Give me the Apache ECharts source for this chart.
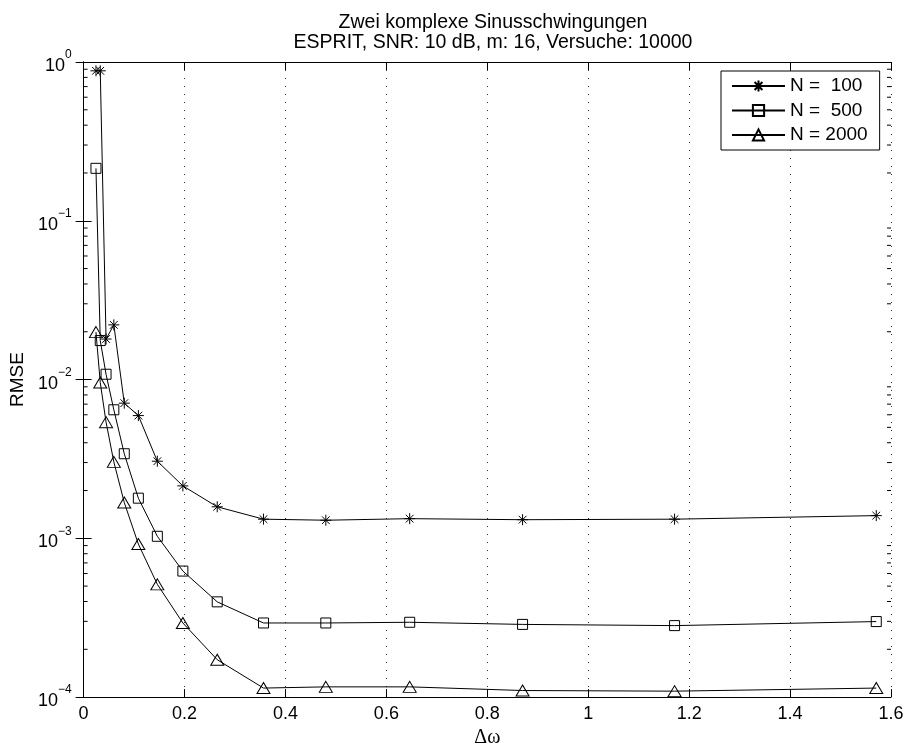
<!DOCTYPE html>
<html>
<head>
<meta charset="utf-8">
<title>ESPRIT RMSE</title>
<script src="https://cdn.jsdelivr.net/npm/echarts@6/dist/echarts.min.js"></script>
<style>
  html, body { margin: 0; padding: 0; background: #fff; }
  #grafica { width: 907px; height: 753px; }
</style>
</head>
<body>
<div id="grafica"></div>
<script>
// Frequenzabstand (x) und RMSE je N
var deltaW = [0.0245, 0.0330, 0.0445, 0.0599, 0.0806, 0.1085, 0.1461, 0.1967, 0.2648, 0.3565, 0.4800, 0.6462, 0.8699, 1.1711, 1.5708];
var rmseN100 = [0.88, 0.88, 0.0180, 0.0221, 0.0071, 0.00593, 0.00306, 0.00214, 0.00158, 0.00132, 0.00130, 0.00133, 0.00131, 0.00132, 0.00139];
var rmseN500 = [0.214, 0.0176, 0.0108, 0.00645, 0.00341, 0.00179, 0.00103, 0.000622, 0.000398, 0.000293, 0.000293, 0.000296, 0.000287, 0.000282, 0.000299];
var rmseN2000 = [0.0199, 0.00958, 0.00539, 0.00303, 0.00168, 0.00092, 0.000513, 0.000293, 0.000172, 0.000114, 0.000116, 0.000116, 0.000110, 0.000109, 0.000114];
var nombres = ['N =  100', 'N =  500', 'N = 2000'];
// kleine Teilstriche der log-Achse
var minorTicks = [
  2e-4, 3e-4, 4e-4, 5e-4, 6e-4, 7e-4, 8e-4, 9e-4,
  2e-3, 3e-3, 4e-3, 5e-3, 6e-3, 7e-3, 8e-3, 9e-3,
  2e-2, 3e-2, 4e-2, 5e-2, 6e-2, 7e-2, 8e-2, 9e-2,
  2e-1, 3e-1, 4e-1, 5e-1, 6e-1, 7e-1, 8e-1, 9e-1
];
var xMin = 0, xMax = 1.6;

var fuente = 'Liberation Sans';
var starPath = 'path://M0,-6L0,6M-6,0L6,0M-4.2,-4.2L4.2,4.2M-4.2,4.2L4.2,-4.2';

function pares(ys) {
  var out = [];
  for (var i = 0; i < deltaW.length; i++) out.push([deltaW[i], ys[i]]);
  return out;
}

function serie(nombre, ys, symbol, size) {
  return {
    name: nombre,
    type: 'line',
    data: pares(ys),
    symbol: symbol,
    symbolSize: size,
    lineStyle: { color: '#000', width: 1 },
    itemStyle: { color: 'rgba(255,255,255,0)', borderColor: '#000', borderWidth: 1 },
    z: 3
  };
}

var datosTicks = [];
minorTicks.forEach(function (v) { datosTicks.push([xMin, v]); });
minorTicks.forEach(function (v) { datosTicks.push([xMax, v]); });

function labelLog(v) {
  var e = Math.round(Math.log10(v));
  var s = e < 0 ? '\u2212' + (-e) : '' + e;
  return '{b|10}{s|' + s + '}';
}

var ejeY = {
  type: 'log',
  logBase: 10,
  min: 1e-4,
  max: 1,
  splitNumber: 4,
  axisLine: { show: true, lineStyle: { color: '#000', width: 1 } },
  axisTick: { show: true, inside: true, length: 8, lineStyle: { color: '#000' } },
  splitLine: { show: false }
};

var echarte = echarts.init(document.getElementById('grafica'), null, { renderer: 'canvas' });
var grafica = {
  animation: false,
  backgroundColor: '#fff',
  title: {
    text: 'Zwei komplexe Sinusschwingungen\nESPRIT, SNR: 10 dB, m: 16, Versuche: 10000',
    left: 488,
    top: 8,
    textAlign: 'center',
    textStyle: { fontFamily: fuente, fontSize: 19.5, fontWeight: 'normal', color: '#000', lineHeight: 20 }
  },
  legend: {
    orient: 'vertical',
    left: 721,
    top: 71,
    data: nombres,
    itemWidth: 53,
    itemHeight: 14,
    itemGap: 4.5,
    padding: [5, 12, 5, 10],
    backgroundColor: '#fff',
    borderColor: '#000',
    borderWidth: 1,
    borderRadius: 0,
    textStyle: { fontFamily: fuente, fontSize: 19, color: '#000', lineHeight: 20 }
  },
  grid: { left: 80, right: 16, top: 62, bottom: 51, containLabel: false },
  xAxis: [
    {
      type: 'value',
      min: xMin,
      max: xMax,
      interval: 0.2,
      name: '\u0394\u03c9',
      nameLocation: 'middle',
      nameGap: 28,
      nameTextStyle: { fontFamily: 'Liberation Serif', fontSize: 20, color: '#000' },
      axisLine: { show: true, onZero: false, lineStyle: { color: '#000', width: 1 } },
      axisTick: { show: true, inside: true, length: 8, lineStyle: { color: '#000' } },
      axisLabel: { fontFamily: fuente, fontSize: 18, color: '#000', margin: 8 },
      splitLine: { show: true, lineStyle: { color: '#333', width: 1, type: [1, 7] } }
    },
    {
      type: 'value',
      position: 'top',
      min: xMin,
      max: xMax,
      interval: 0.2,
      axisLine: { show: true, onZero: false, lineStyle: { color: '#000', width: 1 } },
      axisTick: { show: true, inside: true, length: 8, lineStyle: { color: '#000' } },
      axisLabel: { show: false },
      splitLine: { show: false }
    }
  ],
  yAxis: [
    Object.assign({}, ejeY, {
      position: 'left',
      name: 'RMSE',
      nameLocation: 'middle',
      nameGap: 50,
      nameTextStyle: { fontFamily: fuente, fontSize: 19, color: '#000' },
      axisLabel: {
        color: '#000',
        margin: 12,
        formatter: labelLog,
        rich: {
          b: { fontFamily: fuente, fontSize: 18, color: '#000', lineHeight: 26, verticalAlign: 'bottom' },
          s: { fontFamily: fuente, fontSize: 12, color: '#000', lineHeight: 12, verticalAlign: 'top' }
        }
      }
    }),
    Object.assign({}, ejeY, {
      position: 'right',
      axisLabel: { show: false }
    })
  ],
  series: [
    serie(nombres[0], rmseN100, starPath, 11),
    serie(nombres[1], rmseN500, 'rect', 10),
    serie(nombres[2], rmseN2000, 'triangle', [13, 11]),
    {
      name: 'minorTicks',
      type: 'custom',
      silent: true,
      data: datosTicks,
      renderItem: function (params, api) {
        var p = api.coord([api.value(0), api.value(1)]);
        var dir = api.value(0) > (xMin + xMax) / 2 ? -1 : 1;
        return {
          type: 'line',
          shape: { x1: p[0], y1: p[1], x2: p[0] + dir * 4, y2: p[1] },
          style: { stroke: '#000', lineWidth: 1 }
        };
      },
      z: 4
    }
  ]
};
echarte.setOption(grafica);
</script>
</body>
</html>
